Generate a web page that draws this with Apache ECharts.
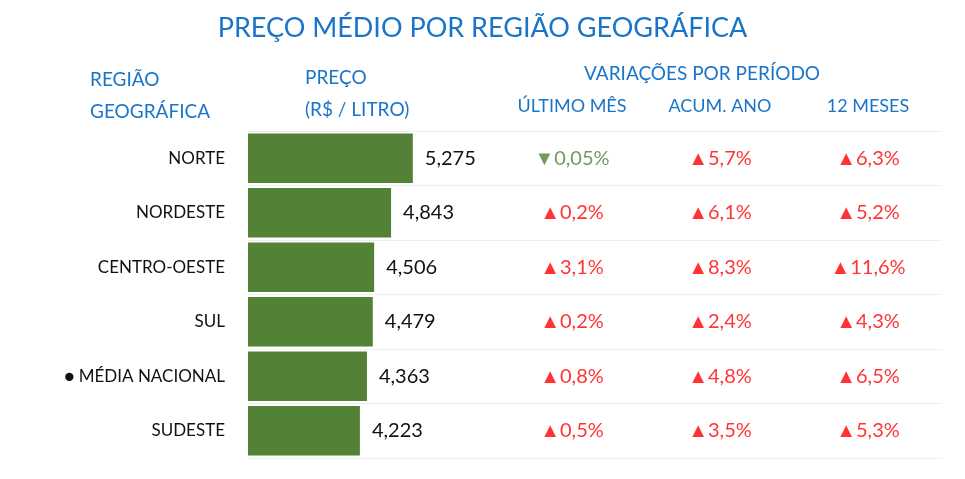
<!DOCTYPE html>
<html><head><meta charset="utf-8">
<script src="https://cdn.jsdelivr.net/npm/echarts@6/dist/echarts.min.js"></script>
<style>html,body{margin:0;padding:0;background:#fff}#c{width:965px;height:479px}</style>
</head><body><div id="c"></div>
<script>
const regions=['NORTE','NORDESTE','CENTRO-OESTE','SUL','● MÉDIA NACIONAL','SUDESTE'];
const prices=[5.275,4.843,4.506,4.479,4.363,4.223];
const periods=['ÚLTIMO MÊS','ACUM. ANO','12 MESES'];
const lastMonth=[-0.05,0.2,3.1,0.2,0.8,0.5];
const ytd=[5.7,6.1,8.3,2.4,4.8,3.5];
const months12=[6.3,5.2,11.6,4.3,6.5,5.3];
const decimals=[[2,1,1,1,1,1],[1,1,1,1,1,1],[1,1,1,1,1,1]];
const F='Lato, "Open Sans", sans-serif';
const BLUE='#1a75c9';
const cols=[lastMonth,ytd,months12];
const pts=[];
cols.forEach((arr,ci)=>arr.forEach((v,ri)=>pts.push([ci,ri,v,decimals[ci][ri]])));
const chart=echarts.init(document.getElementById('c'));
chart.setOption({
 animation:false,
 title:{text:'PREÇO MÉDIO POR REGIÃO GEOGRÁFICA',left:'center',top:10,textStyle:{color:BLUE,fontSize:27,fontWeight:'normal',fontFamily:F}},
 graphic:[
  {type:'text',left:90,top:64,style:{text:'REGIÃO\nGEOGRÁFICA',fill:BLUE,font:'19px '+F,align:'right',lineHeight:32,x:140}},
  {type:'text',left:305,top:62,style:{text:'PREÇO\n(R$ / LITRO)',fill:BLUE,font:'19px '+F,align:'center',lineHeight:32}},
  {type:'text',left:584,top:64,style:{text:'VARIAÇÕES POR PERÍODO',fill:BLUE,font:'19px '+F}}
 ],
 grid:[{left:248,top:131,width:302,height:327},{left:498,top:131,width:444,height:327}],
 xAxis:[
  {gridIndex:0,type:'value',min:2,max:8,show:false},
  {gridIndex:1,type:'category',data:periods,position:'top',axisLine:{show:false},axisTick:{show:false},
   axisLabel:{color:BLUE,fontSize:18,fontFamily:F,margin:16}}
 ],
 yAxis:[
  {gridIndex:0,type:'category',data:regions,inverse:true,axisLine:{show:false},axisTick:{show:false},
   axisLabel:{color:'#111',fontSize:17,fontFamily:F,margin:23},splitLine:{show:true,lineStyle:{color:'#eeeeee'}}},
  {gridIndex:1,type:'category',data:regions,inverse:true,axisLine:{show:false},axisTick:{show:false},axisLabel:{show:false},
   splitLine:{show:true,lineStyle:{color:'#eeeeee'}}}
 ],
 series:[
  {type:'bar',xAxisIndex:0,yAxisIndex:0,data:prices,barWidth:'91%',itemStyle:{color:'#538135'},
   label:{show:true,position:'right',distance:12,color:'#111',fontSize:20,fontFamily:F,
    formatter:p=>p.value.toFixed(3).replace('.',',')}},
  {type:'scatter',xAxisIndex:1,yAxisIndex:1,data:pts,symbolSize:0,
   label:{show:true,position:'inside',fontSize:20,fontFamily:F,
    formatter:p=>{const v=p.value[2];const t=Math.abs(v).toFixed(p.value[3]).replace('.',',')+'%';
      return v<0?'{g|▼'+t+'}':'{r|▲'+t+'}';},
    rich:{r:{color:'#ff0000',fontSize:20,fontFamily:F},g:{color:'#538135',fontSize:20,fontFamily:F}}}}
 ]
});
</script></body></html>
